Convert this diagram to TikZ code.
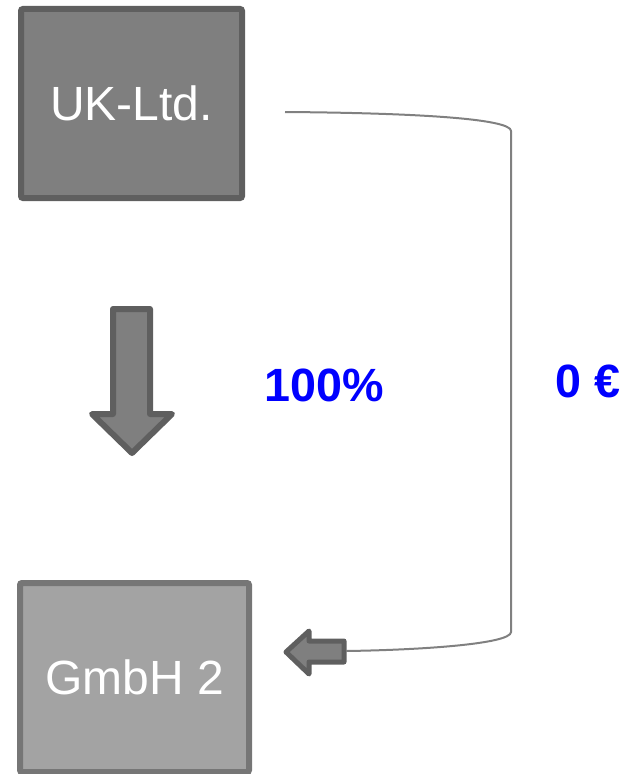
\documentclass[tikz,border=0pt]{standalone}
\usepackage{fontspec}
\setmainfont{Liberation Sans}
\begin{document}
\begin{tikzpicture}[x=0.75pt,y=-0.75pt,
		firm/.style = {draw, line width=4.5pt, rounded corners=1.5pt, text=white, font=\fontsize{36}{40}\selectfont},
		top/.style = {firm, draw={rgb,255:red,95;green,95;blue,95}, fill={rgb,255:red,127;green,127;blue,127}, minimum width=165.75pt, minimum height=141.75pt},
		sub/.style = {firm, draw={rgb,255:red,118;green,118;blue,118}, fill={rgb,255:red,163;green,163;blue,163}, minimum width=171.75pt, minimum height=141.75pt},
		fat/.style = {draw={rgb,255:red,95;green,95;blue,95}, fill={rgb,255:red,127;green,127;blue,127}, line join=round},
		link/.style = {draw={rgb,255:red,128;green,128;blue,128}, line width=1.5pt},
		share/.style = {text=blue, font=\bfseries\fontsize{35}{40}\selectfont}]
		\useasboundingbox (0,0) rectangle (624,774);
		\node[top] (ltd) at (131.5,103.5) {UK-Ltd.};
		\node[sub] (gmbh) at (134.5,677.5) {GmbH 2};
		\draw[fat, line width=4.5pt] (113,309) -- (150,309) -- (150,414) -- (172,414) -- (132,453) -- (92,414) -- (113,414) -- cycle;
		\draw[fat, line width=3.75pt] (286,652) -- (309,631) -- (309,641) -- (344,641) -- (344,662) -- (309,662) -- (309,674) -- cycle;
		\coordinate (start) at (285,112);
		\coordinate (end) at (346,651);
		\draw[link] (start) .. controls (420,113) and (511,119) .. (511,131) -- (511,632) .. controls (511,644) and (420,650) .. (end);
		\node[share] (pct) at (324,385) {100\%};
		\node[share] (amt) at (588,381) {0 €};
	\end{tikzpicture}
\end{document}
